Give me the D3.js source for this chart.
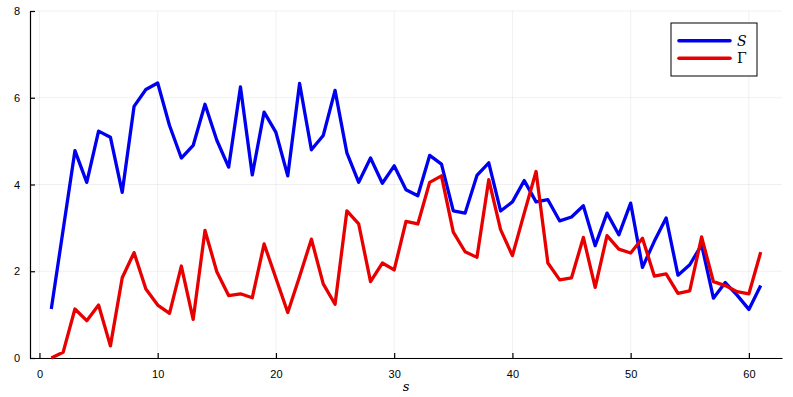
<!DOCTYPE html>
<html>
  <head>
    <meta charset="utf-8">
    <title>S and Gamma</title>
    <script src="https://d3js.org/d3.v7.min.js"></script>
    <style>
      body { margin: 0; background: #fff; }
      svg { display: block; font-family: "DejaVu Sans", sans-serif; }
      .grid line { stroke: #000; stroke-opacity: 0.1; stroke-width: 0.6; }
      .tick text { font-size: 11px; fill: #000; }
    </style>
  </head>

  <body>
    <svg id="canvas" width="793" height="397"></svg>
    <script>
      // data, s = 1..61
      sValues = d3.range(1, 62);
      seriesS = [
        1.13, 2.95, 4.78, 4.05, 5.23, 5.09, 3.82, 5.80, 6.19, 6.34,
        5.36, 4.61, 4.90, 5.85, 5.02, 4.40, 6.25, 4.22, 5.67, 5.20,
        4.20, 6.33, 4.80, 5.13, 6.17, 4.73, 4.05, 4.61, 4.03, 4.43,
        3.88, 3.74, 4.67, 4.47, 3.39, 3.34, 4.21, 4.50, 3.39, 3.60,
        4.09, 3.60, 3.65, 3.16, 3.25, 3.51, 2.59, 3.34, 2.84, 3.57,
        2.09, 2.69, 3.23, 1.91, 2.15, 2.61, 1.38, 1.74, 1.45, 1.12,
        1.67
      ];
      seriesGamma = [
        0.00, 0.13, 1.13, 0.86, 1.22, 0.28, 1.85, 2.43, 1.59, 1.22,
        1.03, 2.12, 0.89, 2.94, 1.99, 1.44, 1.48, 1.39, 2.63, 1.84,
        1.05, 1.88, 2.74, 1.71, 1.24, 3.39, 3.09, 1.76, 2.19, 2.03,
        3.15, 3.09, 4.05, 4.20, 2.90, 2.45, 2.32, 4.11, 2.96, 2.36,
        3.34, 4.30, 2.19, 1.80, 1.85, 2.78, 1.63, 2.82, 2.51, 2.42,
        2.76, 1.89, 1.94, 1.49, 1.55, 2.79, 1.76, 1.67, 1.53, 1.48,
        2.44
      ];
      xTicks = [0, 10, 20, 30, 40, 50, 60];
      yTicks = [0, 2, 4, 6, 8];
      series = [
        {name: "S", values: seriesS, color: "#0000f0"},
        {name: "Γ", values: seriesGamma, color: "#e80000"}
      ];

      canvas = d3.select("#canvas");
      plot = {left: 30, right: 782, top: 11, bottom: 358};

      x = d3.scaleLinear()
        .domain([-0.8, 62.8])
        .range([plot.left, plot.right]);
      y = d3.scaleLinear()
        .domain([0, 8])
        .range([plot.bottom, plot.top]);

      // grid
      grid = canvas.append("g").classed("grid", true);
      grid.selectAll(".gx")
          .data(xTicks)
        .enter().append("line")
          .attr("x1", function(d) { return x(d); })
          .attr("x2", function(d) { return x(d); })
          .attr("y1", plot.top)
          .attr("y2", plot.bottom);
      grid.selectAll(".gy")
          .data(yTicks)
        .enter().append("line")
          .attr("x1", plot.left)
          .attr("x2", plot.right)
          .attr("y1", function(d) { return y(d); })
          .attr("y2", function(d) { return y(d); });

      // axes, ticks pointing inward
      xAxis = canvas.append("g")
        .attr("transform", "translate(0," + plot.bottom + ")")
        .call(d3.axisBottom(x).tickValues(xTicks).tickSizeInner(-5).tickSizeOuter(0).tickPadding(10));
      yAxis = canvas.append("g")
        .attr("transform", "translate(" + plot.left + ",0)")
        .call(d3.axisLeft(y).tickValues(yTicks).tickSizeInner(-5).tickSizeOuter(0).tickPadding(10));
      canvas.selectAll(".domain").attr("stroke", "#000").attr("stroke-width", 1.2);
      canvas.selectAll(".tick line").attr("stroke", "#000").attr("stroke-width", 1.2);
      xAxis.selectAll(".tick text").attr("dy", "0.9em");

      canvas.append("text")
        .attr("x", (plot.left + plot.right) / 2)
        .attr("y", 391)
        .attr("text-anchor", "middle")
        .style("font-family", "DejaVu Serif, serif")
        .style("font-style", "italic")
        .style("font-size", "13px")
        .text("s");

      // lines
      line = d3.line()
        .x(function(d, i) { return x(sValues[i]); })
        .y(function(d) { return y(d); });
      canvas.selectAll(".series")
          .data(series)
        .enter().append("path")
          .attr("fill", "none")
          .attr("stroke", function(d) { return d.color; })
          .attr("stroke-width", 3.3)
          .attr("stroke-linejoin", "round")
          .attr("d", function(d) { return line(d.values); });

      // legend
      legend = canvas.append("g");
      legend.append("rect")
        .attr("x", 671)
        .attr("y", 23)
        .attr("width", 86)
        .attr("height", 53)
        .attr("fill", "#fff")
        .attr("stroke", "#000")
        .attr("stroke-width", 1);
      items = legend.selectAll(".item")
          .data(series)
        .enter().append("g")
          .attr("transform", function(d, i) { return "translate(0," + (40.7 + i * 17.6) + ")"; });
      items.append("line")
        .attr("x1", 679)
        .attr("x2", 730)
        .attr("stroke", function(d) { return d.color; })
        .attr("stroke-width", 3.6)
        .attr("stroke-linecap", "round");
      items.append("text")
        .attr("x", 737)
        .attr("dy", "0.35em")
        .style("font-family", "DejaVu Serif, serif")
        .style("font-style", function(d, i) { return i == 0 ? "italic" : "normal"; })
        .style("font-size", "14px")
        .text(function(d) { return d.name; });
    </script>
  </body>
</html>
